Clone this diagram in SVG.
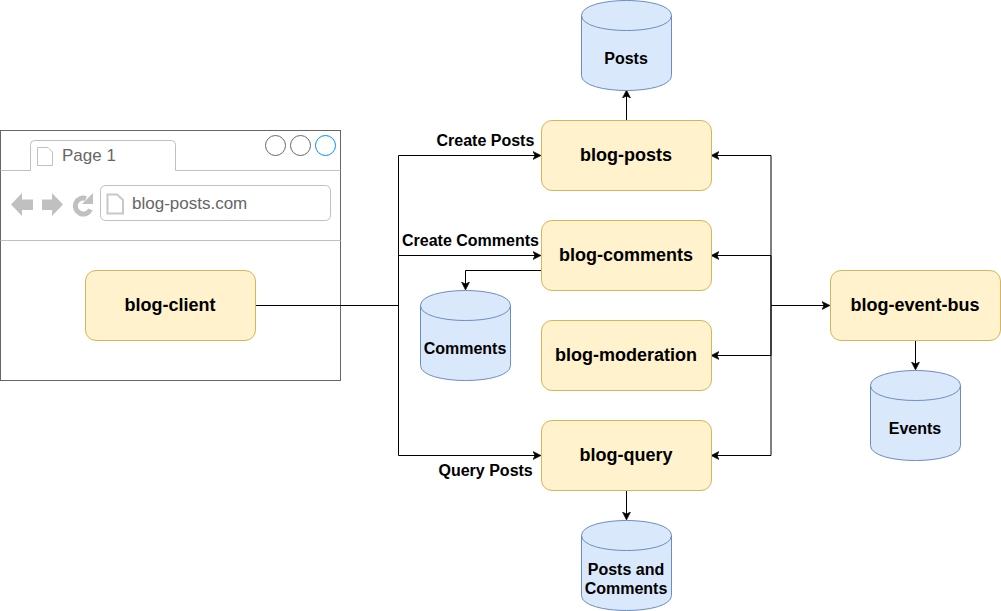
<svg xmlns="http://www.w3.org/2000/svg" width="1001" height="611" viewBox="0 0 1001 611">
<style>
text{font-family:"Liberation Sans",Arial,sans-serif;fill:#000}
.b{font-weight:bold;font-size:16px}
.n{font-weight:bold;font-size:18px;text-anchor:middle}
.c{font-weight:bold;font-size:16px;text-anchor:middle}
.box{fill:#fff2cc;stroke:#d6b656}
.cyl{fill:#dae8fc;stroke:#6c8ebf}
.w{fill:none;stroke:#000;stroke-width:1}
.g{fill:none;stroke:#c0c0c0}
.t{fill:#666;font-size:17px}
</style>
<defs>
<marker id="arr" markerUnits="userSpaceOnUse" markerWidth="10" markerHeight="10" refX="2" refY="4.5" orient="auto">
<path d="M0 .5L8 4.5L0 8.5L2 4.5Z" fill="#000" stroke="#000" stroke-width=".6"/>
</marker>
<g id="cyl"><path class="cyl" d="M0 15C0-5 90-5 90 15V75C90 95 0 95 0 75Z"/><path class="cyl" style="fill:none" d="M0 15C0 35 90 35 90 15"/></g>
</defs>
<g id="browser">
<rect x="0.5" y="130.5" width="340" height="250" fill="#fff" stroke="#666"/>
<path class="g" d="M0.5 170.5H30.5V144.5Q30.5 140.5 34.5 140.5H171.5Q175.5 140.5 175.5 144.5V170.5H340.5"/>
<path class="g" d="M0.5 240.5H340.5"/>
<path d="M37.5 147.5H48L52.5 152V165.5H37.5Z" fill="#fff" stroke="#c0c0c0"/>
<text class="t" x="62" y="161">Page 1</text>
<circle cx="275.5" cy="145.5" r="10" fill="#fff" stroke="#666"/>
<circle cx="300.5" cy="145.5" r="10" fill="#fff" stroke="#666"/>
<circle cx="325.5" cy="145.5" r="10" fill="#fff" stroke="#008cff"/>
<path d="M11 204.5L22 193V199.5H33V210H22V216Z" fill="#c0c0c0"/>
<path d="M63 204.5L52 193V199.5H42V210H52V216Z" fill="#c0c0c0"/>
<path d="M90.5 209.5A8 8 0 1 1 86 198.5" fill="none" stroke="#c0c0c0" stroke-width="5"/>
<path d="M93 193V204H82Z" fill="#c0c0c0"/>
<rect class="g" x="100.5" y="185.5" width="230" height="35" rx="5" fill="#fff"/>
<path d="M107.5 194.5H117L123 200V213.5H107.5Z" fill="#fff" stroke="#c8c8c8" stroke-width="2"/>
<text class="t" x="132" y="209">blog-posts.com</text>
</g>
<g id="connectors">
<path class="w" marker-end="url(#arr)" d="M255.5 305.5H398.5V155.5H535"/>
<path class="w" marker-end="url(#arr)" d="M255.5 305.5H398.5V255.5H535"/>
<path class="w" marker-end="url(#arr)" d="M255.5 305.5H398.5V455.5H535"/>
<path class="w" marker-end="url(#arr)" d="M541.5 270.5H465.5V284"/>
<path class="w" marker-end="url(#arr)" d="M626.5 120.5V96"/>
<path class="w" marker-end="url(#arr)" d="M626.5 490.5V514"/>
<path class="w" marker-end="url(#arr)" d="M915.5 340.5V364"/>
<path class="w" marker-end="url(#arr)" d="M771 305.5H824"/>
<path class="w" marker-end="url(#arr)" d="M771 305.5V155.5H717"/>
<path class="w" marker-end="url(#arr)" d="M771 305.5V255.5H717"/>
<path class="w" marker-end="url(#arr)" d="M771 305.5V355.5H717"/>
<path class="w" marker-end="url(#arr)" d="M771 305.5V455.5H717"/>
</g>
<g id="blog-client"><rect class="box" x="85.5" y="270.5" width="170" height="70" rx="10.5"/><text class="n" x="170" y="311">blog-client</text></g>
<g id="blog-posts"><rect class="box" x="541.5" y="120.5" width="170" height="70" rx="10.5"/><text class="n" x="626" y="161">blog-posts</text></g>
<g id="blog-comments"><rect class="box" x="541.5" y="220.5" width="170" height="70" rx="10.5"/><text class="n" x="626" y="261">blog-comments</text></g>
<g id="blog-moderation"><rect class="box" x="541.5" y="320.5" width="170" height="70" rx="10.5"/><text class="n" x="626" y="361">blog-moderation</text></g>
<g id="blog-query"><rect class="box" x="541.5" y="420.5" width="170" height="70" rx="10.5"/><text class="n" x="626" y="461">blog-query</text></g>
<g id="blog-event-bus"><rect class="box" x="830.5" y="270.5" width="170" height="70" rx="10.5"/><text class="n" x="915" y="311">blog-event-bus</text></g>
<g id="db-posts"><use href="#cyl" x="581.5" y="0.5"/><text class="c" x="626" y="63.5">Posts</text></g>
<g id="db-comments"><use href="#cyl" x="420.5" y="290.5"/><text class="c" x="465" y="353.5">Comments</text></g>
<g id="db-events"><use href="#cyl" x="870.5" y="370.5"/><text class="c" x="915" y="433.5">Events</text></g>
<g id="db-posts-comments"><use href="#cyl" x="581.5" y="520.5"/><text class="c" x="626" y="575">Posts and</text><text class="c" x="626" y="594">Comments</text></g>
<g id="labels">
<text class="b" x="436.5" y="146">Create Posts</text>
<text class="b" x="402" y="246">Create Comments</text>
<text class="b" x="438.5" y="476">Query Posts</text>
</g>
</svg>
